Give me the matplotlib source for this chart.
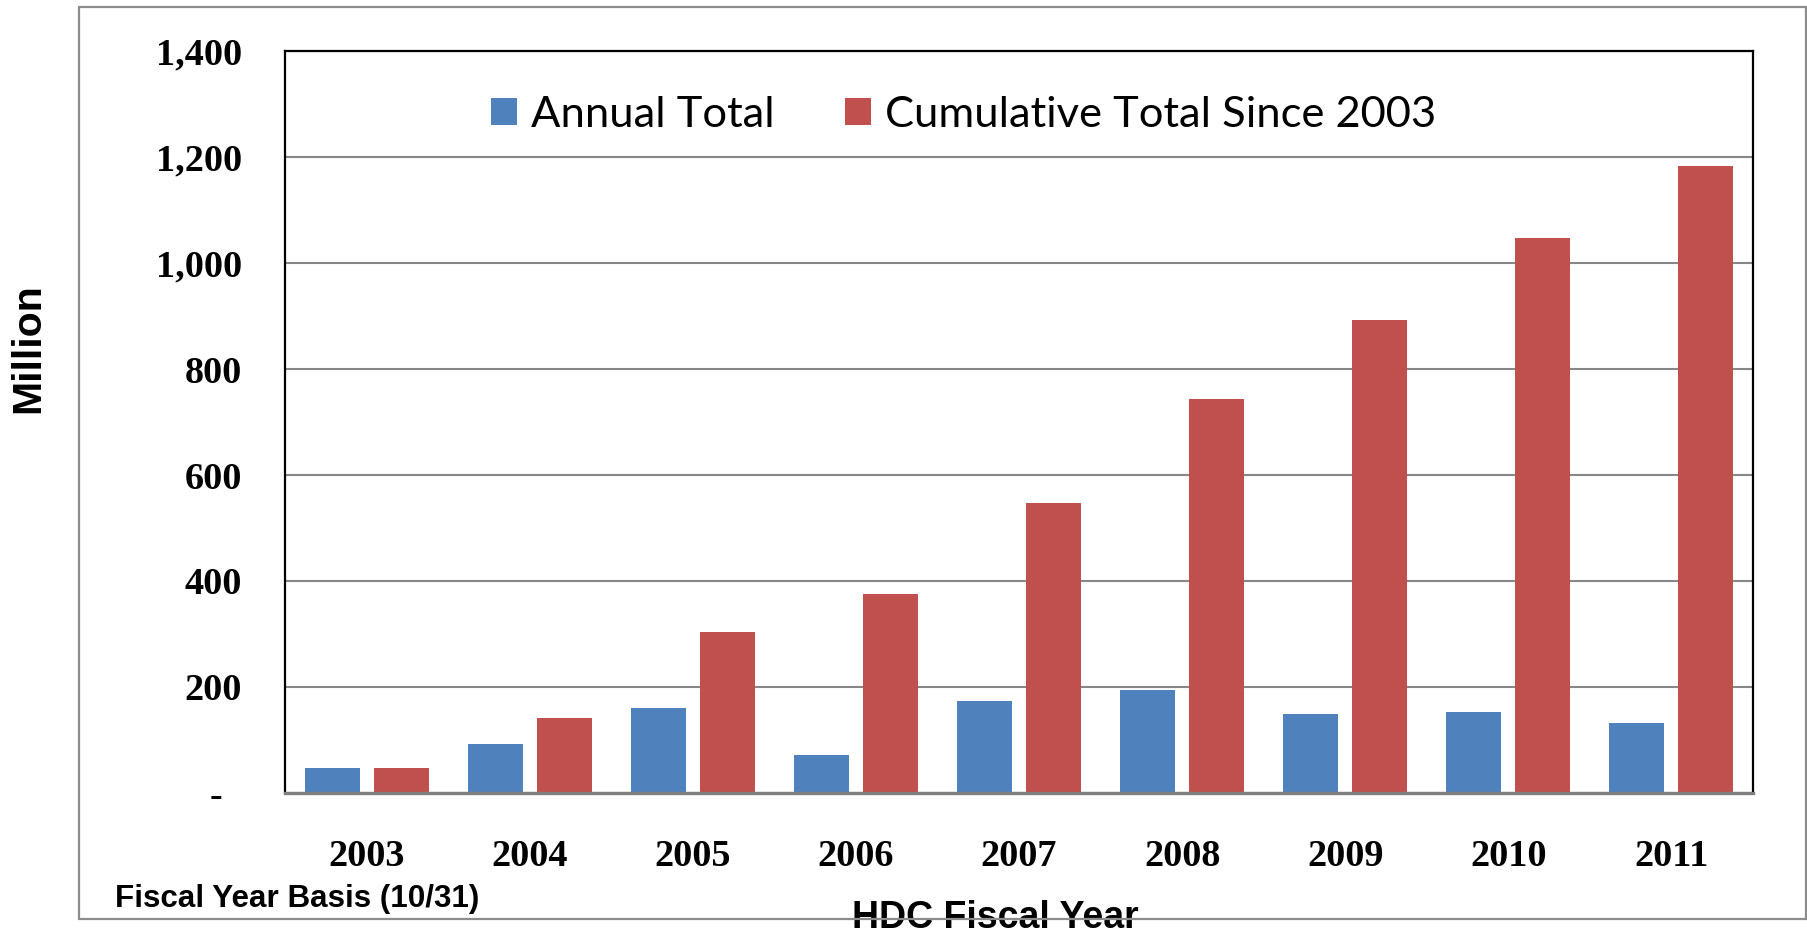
import matplotlib
matplotlib.use("Agg")
import matplotlib.pyplot as plt
from matplotlib.patches import Rectangle
import numpy as np

years = ["2003", "2004", "2005", "2006", "2007", "2008", "2009", "2010", "2011"]
annual_total = [48, 93, 161, 71, 173, 195, 149, 152, 133]
cumulative_total = [48, 141, 304, 375, 548, 743, 893, 1048, 1183]
series_names = ["Annual Total", "Cumulative Total Since 2003"]
y_ticks = [0, 200, 400, 600, 800, 1000, 1200, 1400]
y_tick_labels = ["-  ", "200", "400", "600", "800", "1,000", "1,200", "1,400"]

W, H = 1808, 931
fig = plt.figure(figsize=(W / 100, H / 100), dpi=100)
fig.patch.set_facecolor("white")

ax = fig.add_axes([285 / W, 1 - 793 / H, (1753 - 285) / W, (793 - 51) / H])

x = np.arange(len(years))
bw = 0.337
off = 0.2115
blue = "#4F81BD"
red = "#C0504D"
ax.bar(x - off, annual_total, bw, color=blue, label=series_names[0], zorder=3)
ax.bar(x + off, cumulative_total, bw, color=red, label=series_names[1], zorder=3)

ax.set_xlim(-0.5, len(years) - 0.5)
ax.set_ylim(0, 1400)
ax.set_yticks(y_ticks)
ax.set_yticklabels(y_tick_labels)
ax.set_xticks(x)
ax.set_xticklabels(years)

serif = "Liberation Serif"
for lab in ax.get_yticklabels() + ax.get_xticklabels():
    lab.set_fontfamily(serif)
    lab.set_fontweight("bold")
    lab.set_fontsize(27.5)
ax.tick_params(axis="y", length=0, pad=31)
ax.tick_params(axis="x", length=0, pad=33)

ax.grid(axis="y", color="#878787", linewidth=1.5, zorder=1)
ax.set_axisbelow(True)
for s in ["left", "top", "right"]:
    ax.spines[s].set_color("black")
    ax.spines[s].set_linewidth(1.6)
ax.spines["bottom"].set_color("#7f7f7f")
ax.spines["bottom"].set_linewidth(2.4)
ax.spines["bottom"].set_zorder(4)

leg = ax.legend(loc="center left", bbox_to_anchor=(478 / W, 1 - 115 / H),
                bbox_transform=fig.transFigure, ncol=2, frameon=False,
                prop={"family": "Lato", "size": 31.3},
                handlelength=0.6, handleheight=0.6, handletextpad=0.33,
                columnspacing=1.6, borderaxespad=0, borderpad=0.3)

fig.text(28.5 / W, 1 - 348 / H, "Million", rotation=90, ha="center", va="center",
         family="Liberation Sans", fontweight="bold", fontsize=29.5)
fig.text(995 / W, 1 - 918 / H, "HDC Fiscal Year", ha="center", va="center",
         family="Liberation Sans", fontweight="bold", fontsize=27, zorder=5)
fig.text(115 / W, 1 - 907 / H, "Fiscal Year Basis (10/31)", ha="left", va="baseline",
         family="Liberation Sans", fontweight="bold", fontsize=22.6, zorder=5)

border = Rectangle((79 / W, 1 - 919 / H), (1806 - 79) / W, (919 - 7) / H,
                   transform=fig.transFigure, fill=False, edgecolor="#8c8c8c",
                   linewidth=1.6, zorder=10)
fig.add_artist(border)

fig.savefig("out.png", dpi=100, facecolor="white")
